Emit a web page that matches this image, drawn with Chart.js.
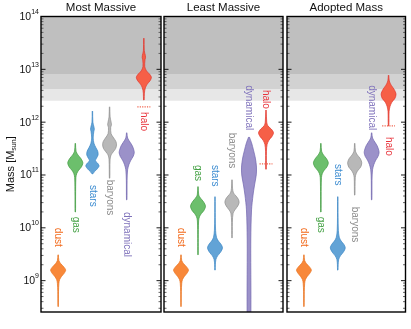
<!DOCTYPE html>
<html>
<head>
<meta charset="utf-8">
<script src="https://cdn.jsdelivr.net/npm/chart.js@4"></script>
<style>
  body { margin: 0; background: #fff; }
  #wrap { position: relative; width: 411px; height: 329px; }
  canvas { position: absolute; left: 0; top: 0; }
</style>
</head>
<body>
<div id="wrap">
  <canvas id="p0" width="411" height="329"></canvas>
  <canvas id="p1" width="411" height="329"></canvas>
  <canvas id="p2" width="411" height="329"></canvas>
</div>
<script>
const categories = ["dust", "gas", "stars", "baryons", "dynamical", "halo"];
const panelTitles = ["Most Massive", "Least Massive", "Adopted Mass"];
const yTickExponents = [9, 10, 11, 12, 13, 14];
const shadeLevels = [2.55e12, 4.25e12, 8.15e12];

// violin profiles: [log10 mass, relative density], top to bottom
const dustProfile = [[9.49,.03],[9.38,.1],[9.32,.35],[9.26,.75],[9.2,1],[9.14,.8],[9.08,.45],[9.02,.2],[8.95,.1],[8.8,.05],[8.51,.03]];
const gasMost = [[11.6,.03],[11.45,.1],[11.38,.35],[11.31,.75],[11.23,1],[11.15,.8],[11.09,.45],[11.03,.2],[10.95,.08],[10.6,.04],[10.3,.03]];
const gasLeast = [[10.78,.03],[10.62,.1],[10.56,.35],[10.49,.75],[10.41,1],[10.33,.8],[10.27,.45],[10.21,.2],[10.13,.08],[9.8,.04],[9.49,.03]];
const starsMost = [[12.21,.03],[12.0,.06],[11.9,.22],[11.86,.25],[11.82,.18],[11.7,.1],[11.6,.2],[11.52,.45],[11.45,.7],[11.38,.75],[11.32,.55],[11.27,.4],[11.22,.7],[11.17,.88],[11.11,.6],[11.06,.25],[11.02,.04]];
const starsLeast = [[10.59,.03],[10.2,.04],[9.95,.08],[9.82,.2],[9.75,.45],[9.69,.8],[9.62,1],[9.54,.75],[9.47,.35],[9.4,.12],[9.3,.05],[9.2,.03]];
const baryonsMost = [[12.29,.03],[12.1,.07],[11.99,.22],[11.95,.25],[11.9,.15],[11.78,.2],[11.7,.55],[11.63,.85],[11.57,.92],[11.5,.8],[11.44,.5],[11.38,.2],[11.3,.07],[11.1,.04],[10.94,.03]];
const baryonsLeast = [[10.91,.03],[10.75,.07],[10.66,.2],[10.6,.55],[10.54,.85],[10.48,.95],[10.42,.8],[10.35,.45],[10.28,.15],[10.1,.05],[9.81,.03]];
const baryonsAdopted = [[11.6,.03],[11.45,.1],[11.38,.35],[11.31,.75],[11.23,.95],[11.15,.8],[11.09,.45],[11.03,.2],[10.95,.07],[10.62,.03]];
const dynMost = [[11.8,.03],[11.7,.12],[11.62,.45],[11.55,.75],[11.47,.95],[11.42,1],[11.35,.85],[11.28,.55],[11.2,.3],[11.1,.12],[10.9,.05],[10.53,.03]];
const dynLeast = [[11.72,.05],[11.61,.34],[11.47,.6],[11.32,.85],[11.15,1],[11.0,.97],[10.81,.74],[10.62,.54],[10.34,.34],[9.77,.24],[8.0,.2]];
const haloMost = [[13.59,.03],[13.35,.06],[13.26,.2],[13.22,.22],[13.18,.15],[13.05,.12],[12.97,.35],[12.91,.75],[12.85,1],[12.79,.85],[12.72,.45],[12.65,.2],[12.55,.07],[12.42,.04]];
const haloLeast = [[12.23,.03],[12.0,.1],[11.93,.25],[11.87,.7],[11.8,1],[11.73,.8],[11.66,.4],[11.58,.15],[11.45,.06],[11.11,.04]];
const haloAdopted = [[12.89,.03],[12.78,.1],[12.7,.35],[12.62,.75],[12.53,1],[12.45,.85],[12.38,.45],[12.3,.2],[12.2,.07],[11.93,.04]];

const panelViolins = [
  [dustProfile, gasMost, starsMost, baryonsMost, dynMost, haloMost],
  [dustProfile, gasLeast, starsLeast, baryonsLeast, dynLeast, haloLeast],
  [dustProfile, gasMost, starsLeast, baryonsAdopted, dynMost, haloAdopted]
];
// halo lower limits (log10 mass)
const haloLimits = [12.29, 11.21, 11.93];
// where each rotated label starts (log10 mass)
const labelStart = [
  [10.0, 10.21, 10.81, 10.91, 10.30, 12.19],
  [10.0, 11.19, 11.19, 11.80, 12.70, 12.61],
  [10.0, 10.21, 11.21, 10.40, 12.70, 11.72]
];

const fillColors = ["#f8883a", "#6cbf6c", "#62a3d6", "#b8b8b8", "#9b91c9", "#f65f47"];
const lineColors = ["#e8701a", "#3d9a3d", "#3a85c4", "#8c8c8c", "#7064ad", "#e0342c"];
const textColors = ["#f26a1b", "#43a043", "#3b8bd0", "#8a8a8a", "#7f72bb", "#e8343c"];

const padLeft = [41, 164, 287];
const padRight = [250, 128, 5.5];
const HALF = 0.44;
const FONT = "'Liberation Sans', Arial, sans-serif";

function violinPoints(profile, xc) {
  const right = profile.map(p => ({ x: xc + p[1] * HALF, y: Math.pow(10, p[0]) }));
  const left = profile.slice().reverse().map(p => ({ x: xc - p[1] * HALF, y: Math.pow(10, p[0]) }));
  return right.concat(left);
}

const decor = {
  id: "decor",
  afterDraw(chart, args, opts) {
    const ctx = chart.ctx;
    const a = chart.chartArea;
    const ys = chart.scales.y, xs = chart.scales.x;
    const p = opts.panel;
    ctx.save();

    // inward ticks on both sides
    for (let e = 8; e <= 13; e++) {
      for (let m = 1; m <= 9; m++) {
        const v = m * Math.pow(10, e);
        if (v < ys.min || v > ys.max) continue;
        const y = ys.getPixelForValue(v);
        const len = m === 1 ? 4.5 : 2.5;
        ctx.strokeStyle = m === 1 ? "#000" : "#555";
        ctx.lineWidth = 0.9;
        ctx.beginPath();
        ctx.moveTo(a.left, y); ctx.lineTo(a.left + len, y);
        ctx.moveTo(a.right, y); ctx.lineTo(a.right - len, y);
        ctx.stroke();
      }
    }

    // frame
    ctx.strokeStyle = "#000";
    ctx.lineWidth = 1.4;
    ctx.strokeRect(a.left, a.top, a.right - a.left, a.bottom - a.top);

    // category labels, rotated
    ctx.font = "10px " + FONT;
    ctx.textAlign = "left";
    ctx.textBaseline = "middle";
    categories.forEach((c, i) => {
      ctx.save();
      ctx.translate(xs.getPixelForValue(i + 1), ys.getPixelForValue(Math.pow(10, labelStart[p][i])));
      ctx.rotate(Math.PI / 2);
      ctx.fillStyle = textColors[i];
      ctx.fillText(c, 0, 0);
      ctx.restore();
    });

    // panel title
    ctx.fillStyle = "#111";
    ctx.font = "11.5px " + FONT;
    ctx.textAlign = "center";
    ctx.textBaseline = "middle";
    ctx.fillText(panelTitles[p], (a.left + a.right) / 2, 8);

    if (p === 0) {
      // y tick labels
      yTickExponents.forEach(e => {
        const y = ys.getPixelForValue(Math.pow(10, e));
        ctx.font = "7px " + FONT;
        const sw = ctx.measureText(String(e)).width;
        ctx.textAlign = "left";
        ctx.textBaseline = "alphabetic";
        ctx.fillText(String(e), a.left - 2 - sw, y - 2.5);
        ctx.font = "10.5px " + FONT;
        ctx.textAlign = "right";
        ctx.textBaseline = "middle";
        ctx.fillText("10", a.left - 2 - sw, y + 0.5);
      });
      // y axis title
      ctx.save();
      ctx.translate(11, (a.top + a.bottom) / 2);
      ctx.rotate(-Math.PI / 2);
      ctx.font = "11px " + FONT;
      const w1 = ctx.measureText("Mass [M").width;
      ctx.font = "7px " + FONT;
      const w2 = ctx.measureText("sun").width;
      ctx.font = "11px " + FONT;
      const w3 = ctx.measureText("]").width;
      let x0 = -(w1 + w2 + w3) / 2;
      ctx.textAlign = "left";
      ctx.textBaseline = "middle";
      ctx.fillText("Mass [M", x0, 0);
      ctx.font = "7px " + FONT;
      ctx.fillText("sun", x0 + w1, 3);
      ctx.font = "11px " + FONT;
      ctx.fillText("]", x0 + w1 + w2, 0);
      ctx.restore();
    }
    ctx.restore();
  }
};

function makePanel(p) {
  const datasets = [];
  shadeLevels.forEach(level => {
    datasets.push({
      data: [{ x: 0, y: level }, { x: 7, y: level }],
      fill: "end",
      backgroundColor: "rgba(0,0,0,0.095)",
      borderWidth: 0,
      pointRadius: 0,
      order: 10
    });
  });
  panelViolins[p].forEach((prof, i) => {
    datasets.push({
      data: violinPoints(prof, i + 1),
      fill: "shape",
      backgroundColor: fillColors[i],
      borderColor: lineColors[i],
      borderWidth: 0.7,
      pointRadius: 0,
      tension: 0.3,
      order: 2
    });
  });
  const lim = Math.pow(10, haloLimits[p]);
  datasets.push({
    data: [{ x: 5.62, y: lim }, { x: 6.38, y: lim }],
    borderColor: "#f0604a",
    borderWidth: 1.2,
    borderDash: [1.2, 1.2],
    pointRadius: 0,
    fill: false,
    order: 1
  });

  new Chart(document.getElementById("p" + p), {
    type: "line",
    data: { datasets: datasets },
    options: {
      responsive: false,
      animation: false,
      devicePixelRatio: 1,
      events: [],
      layout: { padding: { left: padLeft[p], right: padRight[p], top: 16.5, bottom: 17 } },
      scales: {
        x: { type: "linear", min: 0, max: 7, display: false },
        y: { type: "logarithmic", min: 2.55e8, max: 1e14, display: false }
      },
      plugins: {
        legend: { display: false },
        tooltip: { enabled: false },
        decor: { panel: p }
      }
    },
    plugins: [decor]
  });
}

[0, 1, 2].forEach(makePanel);
</script>
</body>
</html>
